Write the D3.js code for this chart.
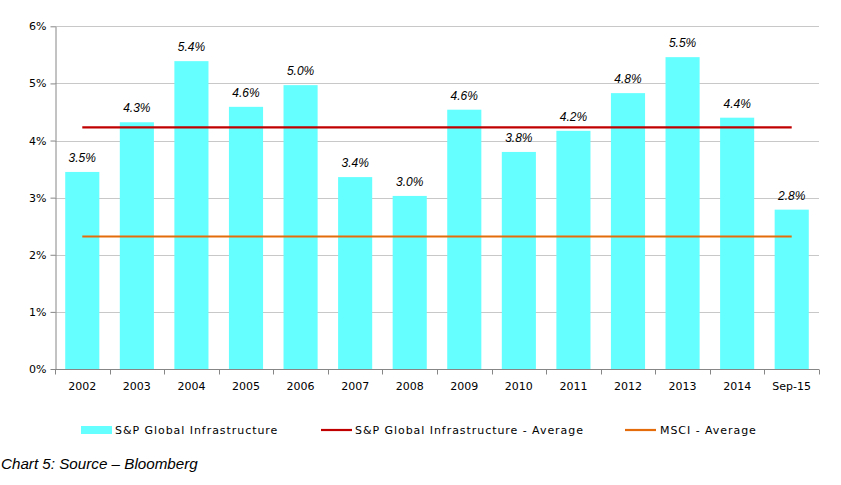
<!DOCTYPE html>
<html><head><meta charset="utf-8">
<script src="https://cdn.jsdelivr.net/npm/d3@7"></script>
<style>
body{margin:0;background:#fff;}
svg{display:block;}
</style></head>
<body>
<svg id="c" width="841" height="485"></svg>
<script>
const categories = ["2002","2003","2004","2005","2006","2007","2008","2009","2010","2011","2012","2013","2014","Sep-15"];
const yieldValues = [3.45,4.32,5.39,4.59,4.97,3.36,3.03,4.54,3.80,4.17,4.83,5.46,4.40,2.79];
const labels = ["3.5%","4.3%","5.4%","4.6%","5.0%","3.4%","3.0%","4.6%","3.8%","4.2%","4.8%","5.5%","4.4%","2.8%"];
const spAverage = 4.23;
const msciAverage = 2.32;
const yTicks = [0,1,2,3,4,5,6];
const legendItems = ["S&P Global Infrastructure","S&P Global Infrastructure - Average","MSCI - Average"];

(function(){
const svg = d3.select("#c");
const pLeft = 55, pRight = 819, pTop = 26.3, pBottom = 369;
const x = d3.scaleBand().domain(categories).range([pLeft, pRight]).paddingInner(0.375).paddingOuter(0.1875);
const xb = d3.scaleBand().domain(categories).range([pLeft, pRight]);
const y = d3.scaleLinear().domain([0,6]).range([pBottom, pTop]);

const axisFont = "DejaVu Sans, Verdana, sans-serif";
// gridlines
svg.append("g").selectAll("line").data(yTicks.filter(d=>d>0)).join("line")
  .attr("x1", pLeft).attr("x2", pRight)
  .attr("y1", d=>Math.round(y(d))+0.5).attr("y2", d=>Math.round(y(d))+0.5)
  .attr("stroke", "#c8c8c8").attr("stroke-width", 1);

// bars
svg.append("g").selectAll("rect").data(yieldValues).join("rect")
  .attr("x", (d,i)=>x(categories[i]))
  .attr("width", x.bandwidth())
  .attr("y", d=>y(d))
  .attr("height", d=>pBottom - y(d))
  .attr("fill", "#66ffff");

// average lines
const x0 = xb(categories[0]) + xb.bandwidth()/2;
const x1 = xb(categories[categories.length-1]) + xb.bandwidth()/2;
svg.append("line").attr("x1", x0).attr("x2", x1).attr("y1", y(spAverage)).attr("y2", y(spAverage))
  .attr("stroke", "#c00000").attr("stroke-width", 2.2);
svg.append("line").attr("x1", x0).attr("x2", x1).attr("y1", y(msciAverage)).attr("y2", y(msciAverage))
  .attr("stroke", "#e46c0a").attr("stroke-width", 2.2);

// y axis
const yAxis = d3.axisLeft(y).tickValues(yTicks).tickFormat(d=>d+"%").tickSize(5).tickSizeOuter(0);
const ga = svg.append("g").attr("transform", `translate(${pLeft+0.5},0)`).call(yAxis);
ga.select(".domain").attr("stroke", "#868686");
ga.selectAll(".tick line").attr("stroke", "#868686");
ga.selectAll(".tick text").attr("font-family", axisFont).attr("font-size", 11).attr("fill", "#000").attr("x", -9);

// x axis
const gx = svg.append("g").attr("transform", `translate(0,${pBottom+0.5})`);
gx.append("line").attr("x1", pLeft).attr("x2", pRight).attr("stroke", "#868686");
gx.selectAll("line.t").data(categories.concat(["__end"])).join("line").attr("class","t")
  .attr("x1", (d,i)=>Math.round(pLeft + i*xb.step())+0.5).attr("x2", (d,i)=>Math.round(pLeft + i*xb.step())+0.5)
  .attr("y1", 0).attr("y2", 5).attr("stroke", "#868686");
gx.selectAll("text").data(categories).join("text")
  .attr("x", d=>xb(d)+xb.bandwidth()/2).attr("y", 20)
  .attr("text-anchor", "middle").attr("font-family", axisFont).attr("font-size", 11).attr("fill", "#000")
  .text(d=>d);

// data labels
svg.append("g").selectAll("text").data(yieldValues).join("text")
  .attr("x", (d,i)=>x(categories[i]) + x.bandwidth()/2)
  .attr("y", d=>y(d) - 10)
  .attr("text-anchor", "middle")
  .attr("font-family", "Liberation Sans, Arial, sans-serif").attr("font-style", "italic").attr("font-size", 12)
  .attr("fill", "#000")
  .text((d,i)=>labels[i]);

// legend
const lg = svg.append("g").attr("font-family", axisFont).attr("font-size", 11).attr("fill", "#000").attr("letter-spacing", 0.95);
lg.append("rect").attr("x", 81).attr("y", 426).attr("width", 31).attr("height", 8).attr("fill", "#66ffff");
lg.append("text").attr("x", 115).attr("y", 434).text(legendItems[0]);
lg.append("line").attr("x1", 321).attr("x2", 352).attr("y1", 430).attr("y2", 430).attr("stroke", "#c00000").attr("stroke-width", 2.2);
lg.append("text").attr("x", 355).attr("y", 434).text(legendItems[1]);
lg.append("line").attr("x1", 625).attr("x2", 656).attr("y1", 430).attr("y2", 430).attr("stroke", "#e46c0a").attr("stroke-width", 2.2);
lg.append("text").attr("x", 660).attr("y", 434).text(legendItems[2]);

// caption
svg.append("text").attr("x", 1).attr("y", 469)
  .attr("font-family", "Liberation Sans, Arial, sans-serif").attr("font-style", "italic").attr("font-size", 15.2)
  .attr("fill", "#000").text("Chart 5: Source – Bloomberg");
})();
</script>
</body></html>
